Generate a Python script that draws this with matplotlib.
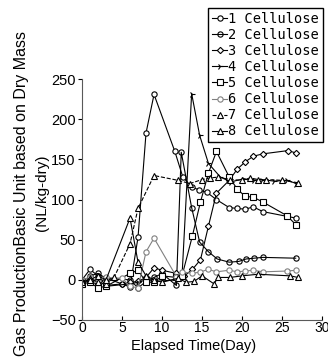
import numpy as np
import matplotlib
matplotlib.use("Agg")
from matplotlib import pyplot as plt

# values (day, NL/kg-dry)
days1 = [0, 1, 2, 3, 5, 6, 7, 8, 9, 11.6, 12.6, 13.7, 14.6, 15.6, 16.8, 18.4, 19.4, 20.4, 21.4, 22.6, 26.7]
gas1 = [0, 13, 5, -7, -5, -9, 53, 183, 231, 160, 128, 116, 112, 109, 100, 90, 89, 88, 91, 85, 77]

days2 = [0, 1, 2, 3, 6, 7, 8, 9, 10, 11.8, 12.4, 13.7, 14.7, 15.8, 16.9, 18.4, 19.6, 20.5, 21.5, 22.6, 26.7]
gas2 = [-3, 5, 8, 2, 0, -10, -2, 3, 8, -7, 159, 90, 47, 35, 26, 22, 23, 26, 27, 28, 27]

days3 = [0, 1, 2, 3, 5, 6, 7, 8, 9, 10, 11.8, 12.8, 13.8, 14.8, 15.8, 16.8, 18.4, 19.4, 20.4, 21.4, 22.6, 25.7, 26.8]
gas3 = [0, -3, -5, 2, -5, -3, -2, 3, 15, 12, 8, 5, 13, 25, 67, 108, 124, 138, 147, 154, 157, 161, 158]

days4 = [0, 1, 2, 3, 6, 7, 8, 9, 11.8, 12.5, 13.7, 14.7, 15.8, 17.3, 18.6, 20.2, 21.5, 22.5, 24, 25.6, 26.8]
gas4 = [2, -3, 0, -8, -5, -3, 0, -2, 0, 5, 232, 180, 145, 128, 122, 126, 124, 125, 123, 124, 120]

days5 = [0, 1, 2, 3, 6, 7, 8, 9, 10, 11.8, 12.5, 13.8, 14.8, 15.8, 16.8, 18.4, 19.4, 20.4, 21.4, 22.6, 25.6, 26.8]
gas5 = [-5, -3, -10, -8, 8, 12, -3, -3, 5, 3, 5, 55, 97, 133, 160, 128, 113, 104, 103, 97, 80, 68]

days6 = [0, 1, 2, 3, 5, 6, 7, 8, 9, 11.8, 12.5, 13.8, 14.8, 15.8, 16.8, 18.4, 19.4, 20.4, 21.4, 22.6, 25.6, 26.8]
gas6 = [0, 3, -2, 3, 2, -8, -10, 35, 52, 4, 10, 8, 10, 13, 10, 12, 10, 11, 12, 10, 11, 12]

days7 = [0, 1, 2, 3, 4, 6, 7, 9, 12, 13.5, 15, 16, 17, 18.5, 20, 21, 22, 23, 25, 27]
gas7 = [-2, 2, -3, -5, 3, 45, 89, 130, 124, 120, 125, 127, 128, 125, 124, 127, 125, 125, 124, 121]

days8 = [0, 1, 2, 3, 6, 7, 8, 9, 10, 12, 13, 14, 15, 16.5, 17, 18.5, 20, 22, 26, 27]
gas8 = [-3, 0, 5, 0, 77, 22, 5, 0, -3, 2, -3, -2, 5, -5, 3, 3, 5, 7, 5, 3]

labels = ["1 Cellulose", "2 Cellulose", "3 Cellulose", "4 Cellulose",
          "5 Cellulose", "6 Cellulose", "7 Cellulose", "8 Cellulose"]

plt.rcParams['font.family'] = ['Liberation Sans', 'DejaVu Sans']

fig = plt.figure(figsize=(3.28, 3.61), dpi=100)
ax = fig.add_axes([0.25, 0.1136, 0.732, 0.667])

kw = dict(lw=0.8, ms=3.8, mew=0.8)
ax.plot(days1, gas1, '-', color='k', marker='o', mfc='white', mec='k', label=labels[0], **kw)
ax.plot(days2, gas2, '-', color='k', marker='o', mfc='none', mec='k', label=labels[1], **kw)
ax.plot(days3, gas3, '-', color='k', marker='D', mfc='white', mec='k', label=labels[2], lw=0.8, ms=3.2, mew=0.8)
ax.plot(days4, gas4, '-', color='k', marker='4', mec='k', label=labels[3], lw=0.8, ms=4.5, mew=0.8)
ax.plot(days5, gas5, '-', color='k', marker='s', mfc='white', mec='k', label=labels[4], **kw)
ax.plot(days6, gas6, '-', color='0.5', marker='o', mfc='white', mec='0.5', label=labels[5], **kw)
ax.plot(days7, gas7, '--', color='k', marker='^', mfc='white', mec='k', label=labels[6], **kw)
ax.plot(days8, gas8, '-', color='k', marker='^', mfc='white', mec='k', label=labels[7], **kw)

ax.set_xlim(0, 30)
ax.set_ylim(-50, 250)
ax.set_xticks([0, 5, 10, 15, 20, 25, 30])
ax.set_yticks([-50, 0, 50, 100, 150, 200, 250])
ax.spines['top'].set_visible(False)
ax.spines['right'].set_visible(False)
ax.spines['left'].set_color('0.35')
ax.spines['bottom'].set_color('0.35')
ax.tick_params(axis='x', direction='in', length=3, pad=1, labelsize=10)
ax.tick_params(axis='y', direction='out', length=3, pad=1.5, labelsize=10.5)

fig.text(194 / 328, 1 - 346 / 361, "Elapsed Time(Day)", ha='center', va='center', fontsize=10.5)
fig.text(22 / 328, 1 - 194 / 361, "Gas ProductionBasic Unit based on Dry Mass",
         rotation=90, ha='center', va='center', fontsize=11.5)
fig.text(42 / 328, 1 - 193 / 361, "(NL/kg-dry)", rotation=90, ha='center', va='center', fontsize=11)

leg = fig.legend(loc='upper left', bbox_to_anchor=(208 / 328, 1 - 8 / 361),
                 prop={'family': 'DejaVu Sans Mono', 'size': 9.8},
                 handlelength=1.1, handletextpad=0.1, borderpad=0.3,
                 labelspacing=0.15, borderaxespad=0, fancybox=False, framealpha=1)
leg.get_frame().set_edgecolor('k')
leg.get_frame().set_linewidth(1.0)

fig.savefig("out.png", dpi=100)
